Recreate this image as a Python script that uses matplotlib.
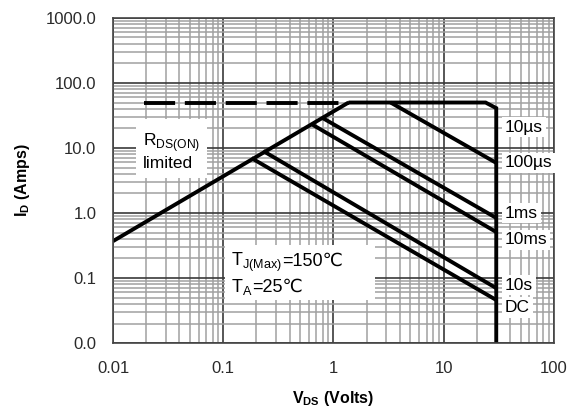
import matplotlib
matplotlib.use("Agg")
import matplotlib.pyplot as plt
from matplotlib.patches import Rectangle
from matplotlib.ticker import FuncFormatter, LogLocator

plt.rcParams['font.family'] = ['Liberation Sans', 'DejaVu Sans']
plt.rcParams['mathtext.fontset'] = 'custom'
plt.rcParams['mathtext.rm'] = 'Liberation Sans'

# SOA boundary data (V_DS in volts, I_D in amps)
rds_v = [0.01, 1.37]
rds_i = [0.37, 50]
dash_v = [0.019, 1.37]
dash_i = [50, 50]
outer_v = [1.37, 24, 30, 30]
outer_i = [50, 50, 41, 0.01]
us100_v = [3.3, 30]
us100_i = [50, 5.9]
ms1_v = [0.80, 30]
ms1_i = [28.8, 0.84]
ms10_v = [0.64, 30]
ms10_i = [23, 0.51]
s10_v = [0.23, 30]
s10_i = [9.0, 0.070]
dc_v = [0.18, 30]
dc_i = [7.0, 0.046]

labels = ['10µs', '100µs', '1ms', '10ms', '10s', 'DC']
label_i = [21, 5.9, 1.0, 0.385, 0.078, 0.035]

fig = plt.figure(figsize=(5.71, 4.07), dpi=100)
ax = fig.add_axes([0.198, 0.157, 0.772, 0.799])
ax.set_xscale('log')
ax.set_yscale('log')
ax.set_xlim(0.01, 100)
ax.set_ylim(0.01, 1000)

ax.xaxis.set_major_locator(LogLocator(base=10, numticks=10))
ax.yaxis.set_major_locator(LogLocator(base=10, numticks=10))
ax.xaxis.set_minor_locator(LogLocator(base=10, subs=range(2, 10), numticks=20))
ax.yaxis.set_minor_locator(LogLocator(base=10, subs=range(2, 10), numticks=20))
ax.grid(True, which='major', color='#3a3a3a', lw=1.2)
ax.grid(True, which='minor', color='#a0a0a0', lw=1.1)
ax.set_axisbelow(True)
ax.tick_params(which='both', length=0)
ax.tick_params(labelsize=12, colors='#2a2a2a')
ax.tick_params(axis='x', pad=13)
ax.tick_params(axis='y', pad=12)
ax.xaxis.set_major_formatter(FuncFormatter(lambda v, p: '%g' % v))
ax.yaxis.set_major_formatter(FuncFormatter(lambda v, p: '%.1f' % v))
for s in ax.spines.values():
    s.set_color('#444444')
    s.set_linewidth(1.2)

lw = 2.8
kw = dict(color='black', lw=lw, solid_capstyle='butt', solid_joinstyle='miter')
ax.plot(dash_v, dash_i, color='black', lw=lw, dashes=(8, 2.5))
ax.plot(rds_v, rds_i, **kw)
ax.plot(outer_v, outer_i, **kw)
for v, i in [(us100_v, us100_i), (ms1_v, ms1_i), (ms10_v, ms10_i),
             (s10_v, s10_i), (dc_v, dc_i)]:
    ax.plot(v, i, **kw)

box = dict(facecolor='white', edgecolor='none', pad=2)
for lab, yi in zip(labels, label_i):
    ax.text(36, yi, lab, fontsize=12.5, va='center', ha='left', bbox=box)

ax.text(0.0187, 9.0, 'R$_\\mathregular{DS(ON)}$\nlimited', fontsize=12.5,
        va='center', ha='left', linespacing=1.2,
        bbox=dict(facecolor='white', edgecolor='none', pad=5))

# white panel behind the temperature note
ax.add_patch(Rectangle((0.254, 0.132), 0.34, 0.169, transform=ax.transAxes,
                       facecolor='white', edgecolor='none', zorder=1.5))
t1 = ax.text(0.117, 0.155, 'T$_\\mathregular{J(Max)}$', fontsize=13,
             va='baseline', ha='left', zorder=3)
ax.annotate('=150℃', xy=(1, 0.155), xycoords=(t1, 'data'), fontsize=13,
            va='baseline', ha='left', zorder=3)
t2 = ax.text(0.117, 0.062, 'T$_\\mathregular{A}$', fontsize=13,
             va='baseline', ha='left', zorder=3)
ax.annotate('=25℃', xy=(1, 0.062), xycoords=(t2, 'data'), fontsize=13,
            va='baseline', ha='left', zorder=3)

ax.set_xlabel('V$_\\mathregular{DS}$ (Volts)', fontsize=11.5, fontweight='bold', labelpad=9)
ax.set_ylabel('I$_\\mathregular{D}$ (Amps)', fontsize=11.5, fontweight='bold', labelpad=10)

fig.savefig('out.png', dpi=100, facecolor='white')
